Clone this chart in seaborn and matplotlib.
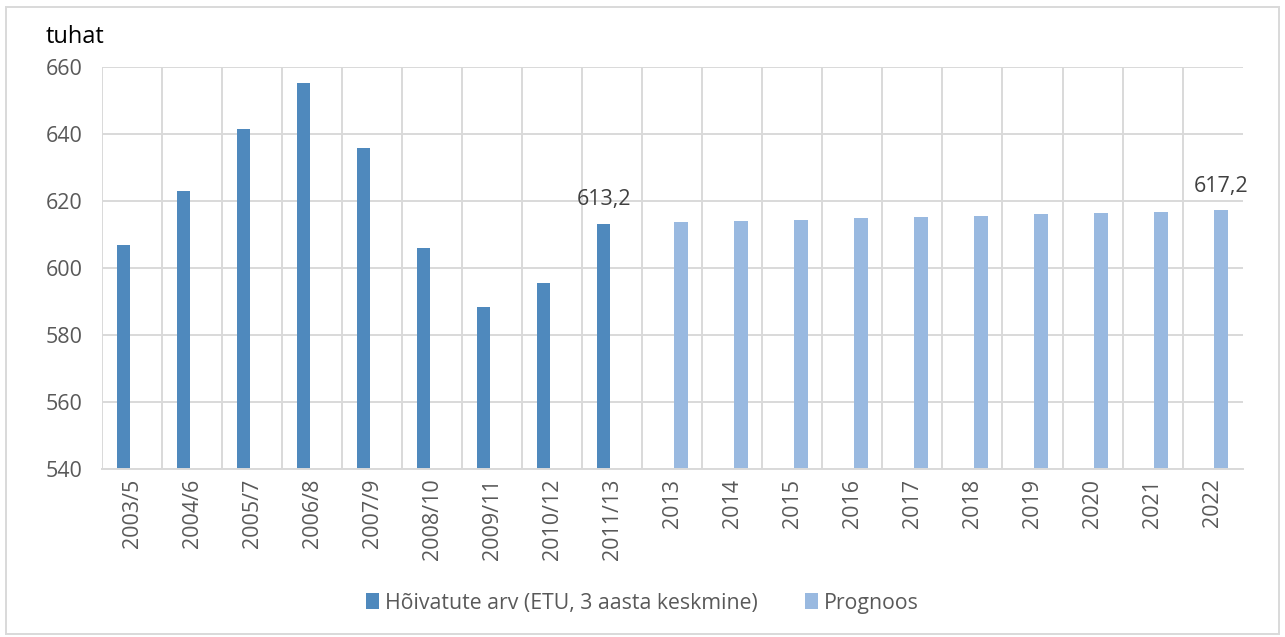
import numpy as np
import pandas as pd
import matplotlib
matplotlib.use("Agg")
import matplotlib.pyplot as plt
import seaborn as sns
from matplotlib.patches import Rectangle

categories = ["2003/5", "2004/6", "2005/7", "2006/8", "2007/9", "2008/10", "2009/11",
              "2010/12", "2011/13", "2013", "2014", "2015", "2016", "2017", "2018",
              "2019", "2020", "2021", "2022"]
actual_cats = categories[:9]
actual_vals = [606.8, 623.1, 641.6, 655.2, 635.9, 606.0, 588.4, 595.5, 613.2]
forecast_cats = categories[9:]
forecast_vals = [613.6, 614.0, 614.4, 614.8, 615.2, 615.6, 616.0, 616.4, 616.8, 617.2]
series_names = ["Hõivatute arv (ETU, 3 aasta keskmine)", "Prognoos"]
yticks = [540, 560, 580, 600, 620, 640, 660]

rows = []
for c in categories:
    va = actual_vals[actual_cats.index(c)] if c in actual_cats else np.nan
    vf = forecast_vals[forecast_cats.index(c)] if c in forecast_cats else np.nan
    rows.append({"cat": c, "series": series_names[0], "value": va})
    rows.append({"cat": c, "series": series_names[1], "value": vf})
df = pd.DataFrame(rows)

sns.set_theme(style="white")
plt.rcParams["font.family"] = ["Open Sans", "DejaVu Sans"]

fig = plt.figure(figsize=(12.85, 6.37), dpi=100)
ax = fig.add_axes([0.0794, 0.2637, 0.8876, 0.6311])

colors = ["#4f89bd", "#99b9e0"]
sns.barplot(data=df, x="cat", y="value", hue="series", order=categories,
            hue_order=series_names, palette=colors, width=0.573, gap=0.215,
            ax=ax, legend=True, saturation=1, linewidth=0)

ax.set_ylim(540, 660)
ax.set_yticks(yticks)
ax.set_xlim(-0.5, len(categories) - 0.5)
ax.set_xlabel("")
ax.set_ylabel("")

grid_col = "#d9d9d9"
ax.set_xticks(np.arange(len(categories)) - 0.5, minor=True)
ax.grid(True, axis="y", which="major", color=grid_col, linewidth=1.4)
ax.grid(True, axis="x", which="minor", color=grid_col, linewidth=1.4)
ax.grid(False, axis="x", which="major")
ax.set_axisbelow(True)
for s in ["top", "right", "left"]:
    ax.spines[s].set_visible(False)
ax.spines["bottom"].set_color(grid_col)
ax.spines["bottom"].set_linewidth(1.4)
ax.tick_params(axis="both", which="both", length=0, colors="#595959", labelsize=15.5)
ax.tick_params(axis="y", pad=14)
ax.tick_params(axis="x", pad=7)
plt.setp(ax.get_xticklabels(), rotation=90)

# data labels on last bar of each series
for cont, vals in zip(ax.containers, [actual_vals, forecast_vals]):
    labels = [""] * (len(cont) - 1) + [f"{vals[-1]:.1f}".replace(".", ",")]
    ax.bar_label(cont, labels=labels, padding=10, fontsize=15.5, color="#404040")

fig.text(46 / 1285, 1 - 43 / 637, "tuhat", fontsize=17, color="black",
         ha="left", va="baseline")

handles, labs = ax.get_legend_handles_labels()
ax.legend(handles, labs, loc="center", bbox_to_anchor=(0.5, 1 - 603 / 637),
          bbox_transform=fig.transFigure, ncol=2, frameon=False, fontsize=15.3,
          handlelength=0.6, handleheight=0.75, handletextpad=0.3,
          columnspacing=2.2, labelcolor="#595959")

fig.patches.append(Rectangle((6 / 1285, 3 / 637), 1273 / 1285, 627 / 637,
                             transform=fig.transFigure, fill=False,
                             edgecolor="#d9d9d9", linewidth=1.4))

fig.savefig("out.png", dpi=100)
